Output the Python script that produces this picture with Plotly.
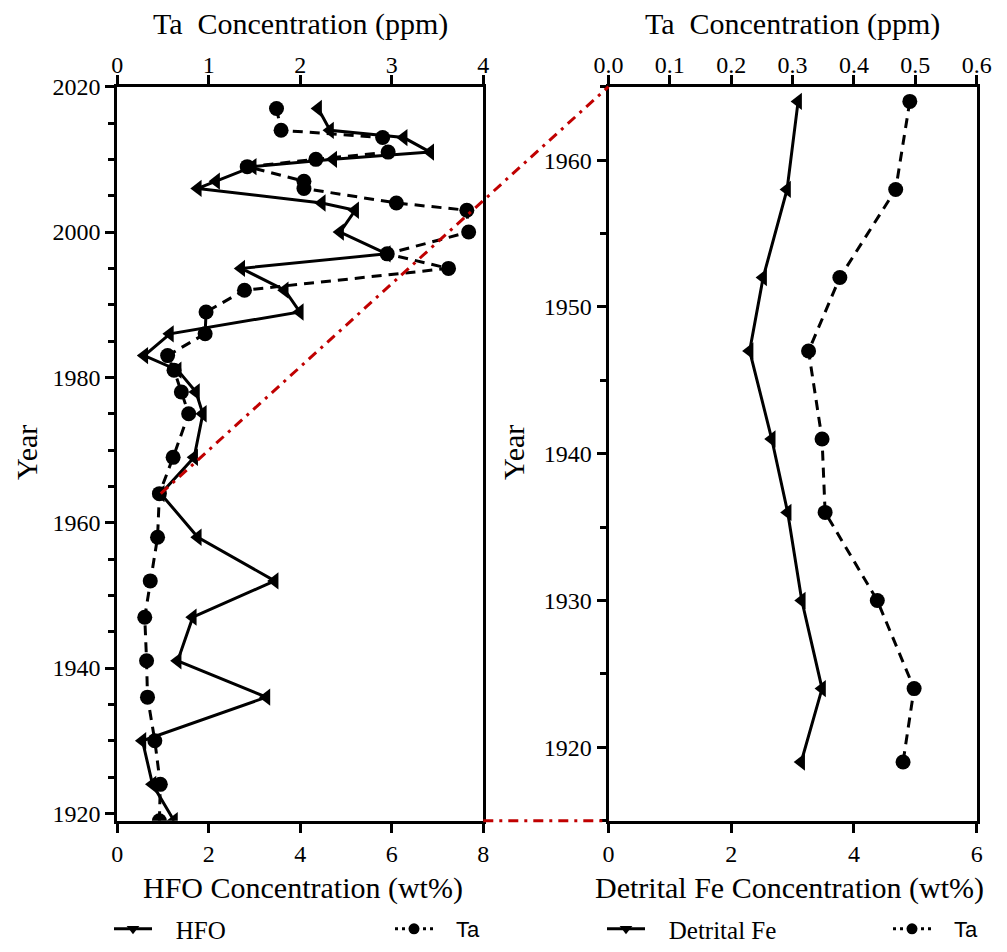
import plotly.graph_objects as go

# ---------------- data ----------------
years_left = [2017, 2014, 2013, 2011, 2010, 2009, 2007, 2006, 2004, 2003, 2000, 1997, 1995,
              1992, 1989, 1986, 1983, 1981, 1978, 1975, 1969, 1964, 1958, 1952, 1947, 1941,
              1936, 1930, 1924, 1919]
hfo = [4.39, 4.65, 6.26, 6.84, 4.72, 2.96, 2.16, 1.76, 4.47, 5.20, 4.87, 5.89, 2.71,
       3.66, 3.99, 1.15, 0.59, 1.32, 1.72, 1.87, 1.68, 0.95, 1.76, 3.44, 1.65, 1.32,
       3.26, 0.55, 0.77, 1.24]
ta_left = [1.74, 1.79, 2.90, 2.96, 2.17, 1.42, 2.04, 2.04, 3.05, 3.82, 3.84, 2.95, 3.62,
           1.39, 0.97, 0.96, 0.55, 0.62, 0.70, 0.78, 0.61, 0.46, 0.44, 0.36, 0.30, 0.32,
           0.33, 0.41, 0.47, 0.46]

years_right = [1964, 1958, 1952, 1947, 1941, 1936, 1930, 1924, 1919]
detrital_fe = [3.09, 2.91, 2.52, 2.30, 2.66, 2.92, 3.15, 3.48, 3.14]
ta_right = [0.491, 0.468, 0.377, 0.326, 0.348, 0.353, 0.438, 0.498, 0.480]

legend_names = ["HFO", "Ta", "Detrital Fe", "Ta"]

# ---------------- layout geometry (pixels, in screenshot coordinates) ----------------
PAGE_OFFSET = 8          # default page body margin around the figure
W, H = 1007 - 2 * PAGE_OFFSET, 952 - 2 * PAGE_OFFSET
LEFT_PX = (117.3, 483.3)
RIGHT_PX = (608.5, 976.7)
TOP_PX, BOT_PX = 86.7, 820.7

hfo_range = [0, 8]
ta_left_range = [0, 4]
year_left_range = [1919, 2020]
fe_range = [0, 6]
ta_right_range = [0, 0.6]
year_right_range = [1915, 1965]

def fx(px):
    return (px - PAGE_OFFSET) / W

def fy(py):
    return 1 - (py - PAGE_OFFSET) / H

xdom_l = [fx(LEFT_PX[0]), fx(LEFT_PX[1])]
xdom_r = [fx(RIGHT_PX[0]), fx(RIGHT_PX[1])]
ydom = [fy(BOT_PX), fy(TOP_PX)]

def data_to_paper(v, rng, dom):
    return dom[0] + (v - rng[0]) / (rng[1] - rng[0]) * (dom[1] - dom[0])

SERIF = "Liberation Serif"
SANS = "Liberation Sans"
BLACK = "black"
RED = "#c00000"

fig = go.Figure()

# ---------------- traces ----------------
fig.add_trace(go.Scatter(
    x=hfo, y=years_left, xaxis="x", yaxis="y", mode="lines+markers",
    line=dict(color=BLACK, width=3),
    marker=dict(symbol="triangle-left", size=15, color=BLACK),
    showlegend=False, name="HFO"))
fig.add_trace(go.Scatter(
    x=ta_left, y=years_left, xaxis="x2", yaxis="y", mode="lines+markers",
    line=dict(color=BLACK, width=3, dash="10px,7px"),
    marker=dict(symbol="circle", size=15, color=BLACK),
    showlegend=False, name="Ta"))
fig.add_trace(go.Scatter(
    x=detrital_fe, y=years_right, xaxis="x3", yaxis="y2", mode="lines+markers",
    line=dict(color=BLACK, width=3),
    marker=dict(symbol="triangle-left", size=15, color=BLACK),
    showlegend=False, name="Detrital Fe"))
fig.add_trace(go.Scatter(
    x=ta_right, y=years_right, xaxis="x4", yaxis="y2", mode="lines+markers",
    line=dict(color=BLACK, width=3, dash="10px,7px"),
    marker=dict(symbol="circle", size=15, color=BLACK),
    showlegend=False, name="Ta"))

# legend-only entries, each in its own legend
legend_specs = [
    (legend_names[0], "triangle-down", "solid", SERIF, 25, "legend", 109),
    (legend_names[1], "circle", "3px,4px", SANS, 22, "legend2", 390),
    (legend_names[2], "triangle-down", "solid", SERIF, 25, "legend3", 602),
    (legend_names[3], "circle", "3px,4px", SANS, 22, "legend4", 888),
]
legend_layout = {}
for name, symbol, dash, fam, fsize, lg, xpx in legend_specs:
    fig.add_trace(go.Scatter(
        x=[None], y=[None], mode="lines+markers", name="   " + name, legend=lg,
        line=dict(color=BLACK, width=3, dash=dash),
        marker=dict(symbol=symbol, size=11, color=BLACK),
        xaxis="x", yaxis="y", hoverinfo="skip"))
    legend_layout[lg] = dict(x=fx(xpx), y=fy(929), xanchor="left", yanchor="middle",
                             orientation="h", bgcolor="rgba(0,0,0,0)", borderwidth=0,
                             itemwidth=38,
                             font=dict(family=fam, size=fsize, color=BLACK))

# ---------------- axes ----------------
axis_common = dict(showgrid=False, zeroline=False, showline=True, linewidth=3, linecolor=BLACK,
                   ticks="outside", tickwidth=3, tickcolor=BLACK, ticklen=9,
                   tickfont=dict(family=SERIF, size=24, color=BLACK), automargin=False)

fig.update_layout(
    xaxis=dict(domain=xdom_l, range=hfo_range, dtick=2, tick0=0, anchor="y", side="bottom",
               mirror=True, **axis_common),
    xaxis2=dict(range=ta_left_range, dtick=1, tick0=0, anchor="y", side="top",
                overlaying="x", ticklabelstandoff=-8, **axis_common),
    yaxis=dict(domain=ydom, range=year_left_range, dtick=20, tick0=1920, anchor="x",
               mirror=True, minor=dict(dtick=5, tick0=1920, ticks="outside", ticklen=6,
                                       tickwidth=3, tickcolor=BLACK),
               **axis_common),
    xaxis3=dict(domain=xdom_r, range=fe_range, dtick=2, tick0=0, anchor="y2", side="bottom",
                mirror=True, **axis_common),
    xaxis4=dict(range=ta_right_range, dtick=0.1, tick0=0, tickformat=".1f", anchor="y2",
                side="top", overlaying="x3", ticklabelstandoff=-8, **axis_common),
    yaxis2=dict(domain=ydom, range=year_right_range, dtick=10, tick0=1920, anchor="x3",
                mirror=True, minor=dict(dtick=5, tick0=1920, ticks="outside", ticklen=6,
                                        tickwidth=3, tickcolor=BLACK),
                **axis_common),
)

# ---------------- titles as annotations ----------------
ann_font = dict(family=SERIF, size=30, color=BLACK)
cxl = (LEFT_PX[0] + LEFT_PX[1]) / 2
cxr = (RIGHT_PX[0] + RIGHT_PX[1]) / 2
annotations = [
    dict(text="Ta  Concentration (ppm)", x=fx(cxl), y=fy(24), xref="paper", yref="paper",
         showarrow=False, font=ann_font, xanchor="center", yanchor="middle"),
    dict(text="Ta  Concentration (ppm)", x=fx(cxr), y=fy(24), xref="paper", yref="paper",
         showarrow=False, font=ann_font, xanchor="center", yanchor="middle"),
    dict(text="HFO Concentration (wt%)", x=fx(cxl + 3), y=fy(888), xref="paper", yref="paper",
         showarrow=False, font=ann_font, xanchor="center", yanchor="middle"),
    dict(text="Detrital Fe Concentration (wt%)", x=fx(cxr - 3), y=fy(888), xref="paper",
         yref="paper", showarrow=False, font=ann_font, xanchor="center", yanchor="middle"),
    dict(text="Year", x=fx(26), y=fy(453), xref="paper", yref="paper", textangle=-90,
         showarrow=False, font=ann_font, xanchor="center", yanchor="middle"),
    dict(text="Year", x=fx(513), y=fy(453), xref="paper", yref="paper", textangle=-90,
         showarrow=False, font=ann_font, xanchor="center", yanchor="middle"),
]

# ---------------- red connector lines ----------------
i1964 = years_left.index(1964)
start_x = data_to_paper(hfo[i1964], hfo_range, xdom_l)
start_y = data_to_paper(1964, year_left_range, ydom)
end_x = data_to_paper(fe_range[0], fe_range, xdom_r)
end_y = data_to_paper(year_right_range[1], year_right_range, ydom)
red_line = dict(color=RED, width=3, dash="10px,6px,3px,6px")
shapes = [
    dict(type="line", xref="paper", yref="paper", x0=start_x, y0=start_y, x1=end_x, y1=end_y,
         line=red_line, layer="above"),
    dict(type="line", xref="paper", yref="paper",
         x0=xdom_l[1], y0=ydom[0], x1=xdom_r[0], y1=ydom[0], line=red_line, layer="above"),
]

fig.update_layout(
    width=W, height=H,
    margin=dict(l=0, r=0, t=0, b=0, autoexpand=False),
    paper_bgcolor="white", plot_bgcolor="white",
    font=dict(family=SERIF, size=24, color=BLACK),
    annotations=annotations, shapes=shapes,
    **legend_layout,
)

fig.write_html("out.html")
